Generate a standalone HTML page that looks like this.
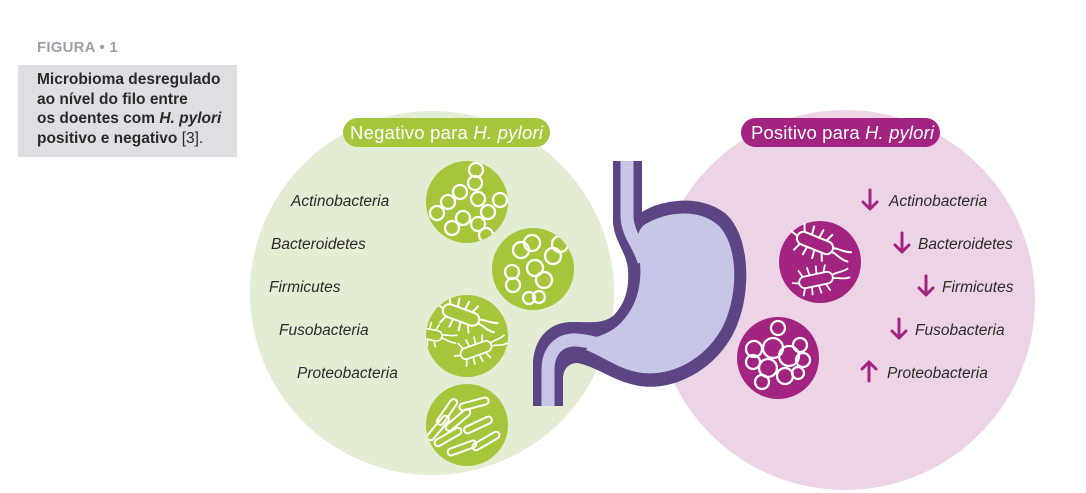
<!DOCTYPE html>
<html><head><meta charset="utf-8">
<style>
html,body{margin:0;padding:0;background:#fff;}
body{width:1086px;height:493px;overflow:hidden;position:relative;font-family:"Liberation Sans",sans-serif;}
#fig{position:absolute;left:37px;top:39px;font-size:15px;font-weight:bold;color:#a39da8;letter-spacing:0.2px;}
#box{position:absolute;left:18px;top:65px;width:219px;height:92px;background:#e1dee3;}
#box div{position:absolute;left:19px;top:5px;font-size:15.5px;font-weight:bold;line-height:19.5px;color:#2a2a2a;white-space:nowrap;}
svg{position:absolute;left:0;top:0;}
</style></head><body>
<div id="fig">FIGURA • 1</div>
<div id="box"><div>Microbioma desregulado<br>ao nível do filo entre<br>os doentes com <i>H. pylori</i><br>positivo e negativo <span style="font-weight:normal">[3].</span></div></div>
<svg width="1086" height="493" viewBox="0 0 1086 493">
<defs>
<clipPath id="c1"><circle cx="467" cy="202" r="41"/></clipPath>
<clipPath id="c2"><circle cx="533" cy="269" r="41"/></clipPath>
<clipPath id="c3"><circle cx="467" cy="336" r="41"/></clipPath>
<clipPath id="c4"><circle cx="467" cy="425" r="41"/></clipPath>
<clipPath id="c6"><circle cx="778" cy="358" r="41"/></clipPath>
<g id="rodf" fill="none" stroke="#fff" stroke-width="2" stroke-linecap="round">
<rect x="-19" y="-6.5" width="38" height="13" rx="6.5"/>
<path d="M-14,-7 l-3,-7 M-6,-7 l-1,-8 M2,-7 l1,-8 M10,-7 l3,-7 M-14,7 l-3,7 M-6,7 l-1,8 M2,7 l1,8 M10,7 l3,7 M-19,0 l-7,-2 M19,2 c6,0 10,4 18,3 M19,-2 c6,-2 10,0 18,-3"/>
</g>
</defs>
<circle cx="432" cy="293" r="182" fill="#e3edd3"/>
<circle cx="845" cy="300" r="190" fill="#ecd4e6"/>
<rect x="343" y="118" width="207" height="29" rx="14.5" fill="#a5c63b"/>
<text x="350" y="139" font-family="Liberation Sans,sans-serif" font-size="18.5" fill="#fff" textLength="193">Negativo para <tspan font-style="italic">H. pylori</tspan></text>
<rect x="741" y="118" width="199" height="29" rx="14.5" fill="#a32380"/>
<text x="751" y="139" font-family="Liberation Sans,sans-serif" font-size="18.5" fill="#fff" textLength="183">Positivo para <tspan font-style="italic">H. pylori</tspan></text>
<g font-family="Liberation Sans,sans-serif" font-size="15.5" font-style="italic" fill="#2b2b2b">
<text x="291" y="206">Actinobacteria</text>
<text x="271" y="249">Bacteroidetes</text>
<text x="269" y="292">Firmicutes</text>
<text x="279" y="335">Fusobacteria</text>
<text x="297" y="378">Proteobacteria</text>
<text x="889" y="206">Actinobacteria</text>
<text x="918" y="249">Bacteroidetes</text>
<text x="942" y="292">Firmicutes</text>
<text x="915" y="335">Fusobacteria</text>
<text x="887" y="378">Proteobacteria</text>
</g>
<g stroke="#a32380" stroke-width="3" fill="none" stroke-linecap="round" stroke-linejoin="round">
<path d="M870,190 v19 M863,202 l7,7 l7,-7"/>
<path d="M902,233 v19 M895,245 l7,7 l7,-7"/>
<path d="M926,276 v19 M919,288 l7,7 l7,-7"/>
<path d="M899,319 v19 M892,331 l7,7 l7,-7"/>
<path d="M869,381 v-19 M862,369 l7,-7 l7,7"/>
</g>
<g fill="#a5c63b">
<circle cx="467" cy="202" r="41"/><circle cx="533" cy="269" r="41"/>
<circle cx="467" cy="336" r="41"/><circle cx="467" cy="425" r="41"/>
</g>
<g fill="none" stroke="#fff" stroke-width="2.3">
<g clip-path="url(#c1)">
<circle cx="437" cy="213" r="7"/><circle cx="448" cy="202" r="7"/><circle cx="460" cy="192" r="7"/>
<circle cx="476" cy="170" r="7"/><circle cx="475" cy="183" r="7"/><circle cx="478" cy="199" r="7"/><circle cx="488" cy="212" r="7"/><circle cx="500" cy="200" r="7"/>
<circle cx="463" cy="218" r="7"/><circle cx="452" cy="228" r="7"/><circle cx="478" cy="224" r="7"/><circle cx="486" cy="235" r="7"/>
</g>
<g clip-path="url(#c2)">
<circle cx="521" cy="250" r="8"/><circle cx="532" cy="243" r="8"/>
<circle cx="553" cy="256" r="8"/><circle cx="560" cy="244" r="8"/>
<circle cx="512" cy="272" r="7"/><circle cx="513" cy="285" r="7"/>
<circle cx="535" cy="268" r="8"/><circle cx="544" cy="280" r="8"/>
<circle cx="529" cy="298" r="6"/><circle cx="539" cy="297" r="6"/>
</g>
<g clip-path="url(#c3)">
<use href="#rodf" transform="translate(461,315) rotate(20)"/>
<use href="#rodf" transform="translate(476,350) rotate(-20) scale(0.85)"/>
<use href="#rodf" transform="translate(427,334) rotate(10) scale(0.8)"/>
</g>
<g clip-path="url(#c4)" stroke-width="2">
<rect x="-15" y="-3.5" width="30" height="7" rx="3.5" transform="translate(447,412) rotate(-55)"/>
<rect x="-15" y="-3.5" width="30" height="7" rx="3.5" transform="translate(458,420) rotate(-40)"/>
<rect x="-15" y="-3.5" width="30" height="7" rx="3.5" transform="translate(474,404) rotate(-15)"/>
<rect x="-15" y="-3.5" width="30" height="7" rx="3.5" transform="translate(448,437) rotate(-30)"/>
<rect x="-15" y="-3.5" width="30" height="7" rx="3.5" transform="translate(478,425) rotate(-25)"/>
<rect x="-15" y="-3.5" width="30" height="7" rx="3.5" transform="translate(462,448) rotate(-20)"/>
<rect x="-15" y="-3.5" width="30" height="7" rx="3.5" transform="translate(486,441) rotate(-30)"/>
<rect x="-15" y="-3.5" width="30" height="7" rx="3.5" transform="translate(438,428) rotate(-50)"/>
</g>
</g>
<circle cx="820" cy="262" r="41" fill="#a32380"/>
<circle cx="778" cy="358" r="41" fill="#a32380"/>
<use href="#rodf" transform="translate(815,243) rotate(22)"/>
<use href="#rodf" transform="translate(816,280) rotate(-12) scale(0.9)"/>
<g fill="none" stroke="#fff" stroke-width="2.3" clip-path="url(#c6)">
<circle cx="778" cy="328" r="7"/>
<circle cx="754" cy="349" r="8"/><circle cx="753" cy="362" r="7"/>
<circle cx="773" cy="348" r="10"/><circle cx="789" cy="356" r="10"/>
<circle cx="800" cy="345" r="7"/><circle cx="803" cy="360" r="7"/>
<circle cx="768" cy="368" r="9"/><circle cx="785" cy="376" r="8"/>
<circle cx="762" cy="382" r="7"/><circle cx="798" cy="373" r="6"/>
</g>
<path d="M613,161 L642,161 L642,212 C662,199 702,194 726,214 C752,238 752,300 732,336 C712,372 672,391 640,386 C614,382 596,366 577,363 C569,363 563,369 563,379 L563,406 L533,406 L533,366 C533,340 548,322 572,322 C592,322 602,324 613,316 C627,302 629,285 628,270 C627,252 613,240 613,220 Z" fill="#5d4585"/>
<path d="M627,161 L627,215 C627,235 640,245 644,262" fill="none" stroke="#c6c6e6" stroke-width="13"/>
<path d="M548,406 L548,370 C548,350 560,339 577,340 C592,341 602,346 612,347" fill="none" stroke="#c6c6e6" stroke-width="13"/>
<path d="M644,225 C666,211 700,208 719,226 C740,248 738,300 721,330 C702,362 670,376 642,373 C620,370 604,357 586,350 L596,337 C610,333 620,326 628,314 C641,296 642,272 639,255 C637,242 636,232 644,225 Z" fill="#c6c6e6"/>
</svg>
</body></html>
